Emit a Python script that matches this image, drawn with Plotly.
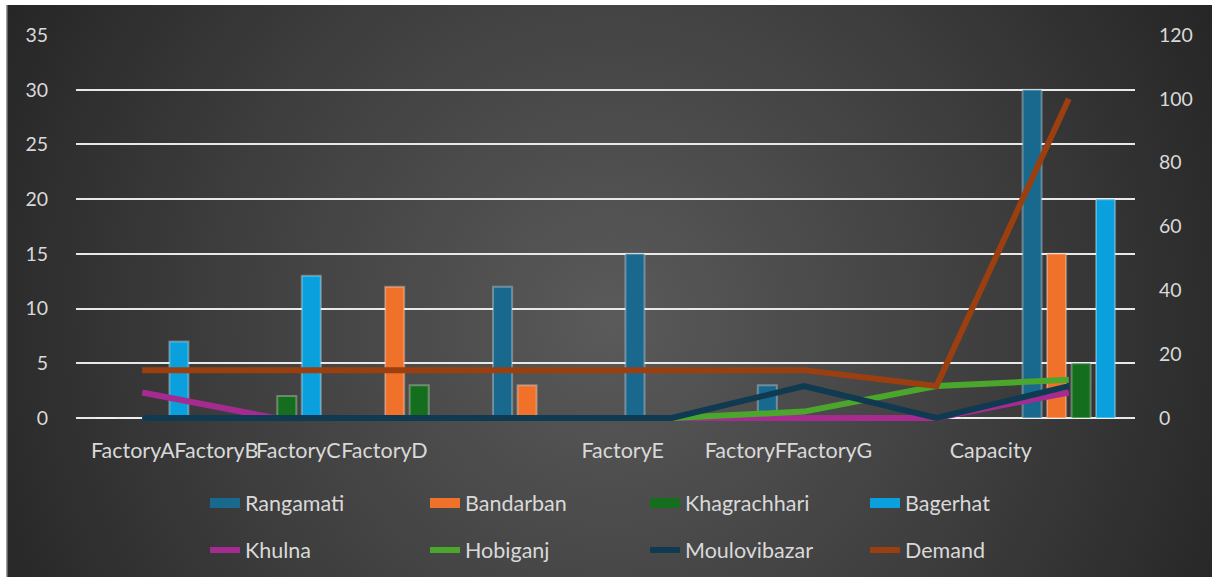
import base64
import plotly.graph_objects as go

# ---- data -------------------------------------------------------------
categories = ["FactoryA", "FactoryB", "FactoryC", "FactoryD",
              "FactoryE", "FactoryF", "FactoryG", "Capacity"]

rangamati = [0, 0, 0, 12, 15, 3, 0, 30]
bandarban = [0, 0, 12, 3, 0, 0, 0, 15]
khagrachhari = [0, 2, 3, 0, 0, 0, 0, 5]
bagerhat = [7, 13, 0, 0, 0, 0, 0, 20]

khulna = [8, 0, 0, 0, 0, 0, 0, 8]
hobiganj = [0, 0, 0, 0, 0, 2, 10, 12]
moulovibazar = [0, 0, 0, 0, 0, 10, 0, 10]
demand = [15, 15, 15, 15, 15, 15, 10, 100]

left_ticks = [0, 5, 10, 15, 20, 25, 30, 35]
right_ticks = [0, 20, 40, 60, 80, 100, 120]

# ---- layout constants --------------------------------------------------
W, H = 1212, 577
ZERO_Y = 418          # pixel row of the value axis origin
PAD = 5               # room below the origin so lines at 0 are not clipped
ML, MR, MT = 76, 77, 35
MB = H - ZERO_Y - PAD
PW, PH = W - ML - MR, H - MT - MB
AXIS_PX = ZERO_Y - MT  # pixel height of the 0..max span

LEFT_MAX, RIGHT_MAX = 35, 120
left_range = [-LEFT_MAX * PAD / AXIS_PX, LEFT_MAX]
right_range = [-RIGHT_MAX * PAD / AXIS_PX, RIGHT_MAX]

# where each category caption sits along the x axis (category units)
caption_pos = [-0.07, 0.56, 1.18, 1.83, 3.63, 4.56, 5.19, 6.41]

FONT = "Lato"
TXT = "#d9d9d9"
NUM_SIZE = 19.5
LABEL_SIZE = 21.5

bar_series = [
    ("Rangamati", rangamati, "#19698f"),
    ("Bandarban", bandarban, "#f0712a"),
    ("Khagrachhari", khagrachhari, "#156d1e"),
    ("Bagerhat", bagerhat, "#0aa0dd"),
]
line_series = [
    ("Khulna", khulna, "#a52b91"),
    ("Hobiganj", hobiganj, "#4ba72c"),
    ("Moulovibazar", moulovibazar, "#0f3a51"),
    ("Demand", demand, "#9c3f10"),
]

fig = go.Figure()

for name, vals, col in bar_series:
    fig.add_trace(go.Bar(
        x=categories, y=vals, name=name, legendgroup=name, showlegend=False,
        marker=dict(color=col, line=dict(color="rgba(255,255,255,0.30)", width=2)),
        yaxis="y",
    ))
    # wide swatch for the legend row of the column series
    fig.add_trace(go.Scatter(
        x=[None], y=[None], mode="lines", name=name, legendgroup=name,
        line=dict(color=col, width=10), legend="legend", hoverinfo="skip",
    ))

for name, vals, col in line_series:
    fig.add_trace(go.Scatter(
        x=categories, y=vals, name=name, mode="lines",
        line=dict(color=col, width=6), yaxis="y2", legend="legend2",
    ))

# radial dark backdrop
svg = f'''<svg xmlns="http://www.w3.org/2000/svg" width="{W}" height="{H}" viewBox="0 0 {W} {H}" preserveAspectRatio="none">
<defs><radialGradient id="g" gradientUnits="userSpaceOnUse" cx="610" cy="320" r="700">
<stop offset="0" stop-color="#5a5a5a"/><stop offset="0.55" stop-color="#3e3e3e"/><stop offset="1" stop-color="#242424"/></radialGradient></defs>
<rect x="7" y="5" width="{W - 7}" height="{H - 5}" fill="url(#g)"/>
<rect x="6" y="5" width="1.5" height="{H - 5}" fill="#a0a0a0"/>
</svg>'''
src = "data:image/svg+xml;base64," + base64.b64encode(svg.encode()).decode()

fig.add_layout_image(dict(
    source=src, xref="paper", yref="paper",
    x=-ML / PW, y=1 + MT / PH, sizex=W / PW, sizey=H / PH,
    xanchor="left", yanchor="top", sizing="stretch", layer="below",
))

legend_common = dict(
    orientation="h", xanchor="left", yanchor="middle", yref="container",
    font=dict(family=FONT, size=LABEL_SIZE, color=TXT),
    bgcolor="rgba(0,0,0,0)", entrywidth=175, entrywidthmode="pixels",
    itemclick=False, itemdoubleclick=False,
)

fig.update_layout(
    width=W, height=H,
    margin=dict(l=ML, r=MR, t=MT, b=MB, autoexpand=False),
    paper_bgcolor="white", plot_bgcolor="rgba(0,0,0,0)",
    barmode="group", bargap=0.26, bargroupgap=0.22,
    font=dict(family=FONT, size=LABEL_SIZE, color=TXT),
    xaxis=dict(
        type="category", range=[-0.5, 7.5], automargin=False,
        tickmode="array", tickvals=caption_pos, ticktext=categories,
        tickangle=0, showgrid=False, showline=False, zeroline=False,
        ticks="", ticklabelstandoff=17 - PAD,
        tickfont=dict(family=FONT, size=LABEL_SIZE, color=TXT),
    ),
    yaxis=dict(
        range=left_range, tickvals=left_ticks, showgrid=True, automargin=False,
        gridcolor="#e8e8e8", gridwidth=2, zeroline=True, zerolinecolor="#e8e8e8",
        zerolinewidth=2, showline=False, ticks="", ticklabelstandoff=27,
        tickfont=dict(family=FONT, size=NUM_SIZE, color=TXT),
    ),
    yaxis2=dict(
        range=right_range, tickvals=right_ticks, overlaying="y", side="right",
        showgrid=False, zeroline=False, showline=False, ticks="", automargin=False,
        ticklabelstandoff=23,
        tickfont=dict(family=FONT, size=NUM_SIZE, color=TXT),
    ),
    legend=dict(x=(205 - ML) / PW, y=1 - 503 / H, **legend_common),
    legend2=dict(x=(205 - ML) / PW, y=1 - 550 / H, **legend_common),
)

fig.write_html("out.html")
